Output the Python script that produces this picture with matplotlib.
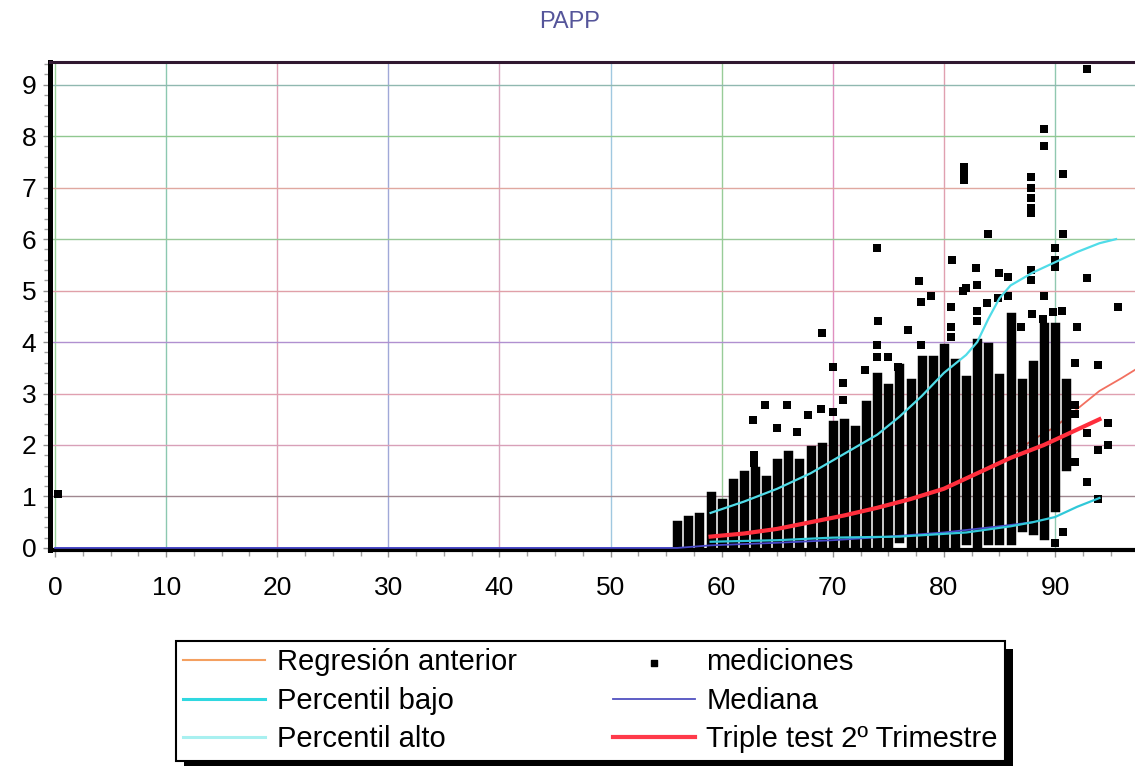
import matplotlib
matplotlib.use("Agg")
import matplotlib.pyplot as plt
from matplotlib.patches import Rectangle
from matplotlib.ticker import MultipleLocator

plt.rcParams['font.family'] = ['Liberation Sans', 'DejaVu Sans']

# weekly columns of measurements (dense runs of points): week, low end, high end
col_x = [56, 57, 58, 59, 60, 61, 62, 63, 64, 65, 66, 67, 68, 69, 70, 71, 72, 73,
         74, 75, 76, 77, 78, 79, 80, 81, 82, 83, 84, 85, 86, 87, 88, 89, 90, 91]
col_lo = [0.05, 0.05, 0.05, 0.05, 0.05, 0.05, 0.05, 0.05, 0.05, 0.05, 0.05, 0.05,
          0.05, 0.05, 0.05, 0.05, 0.05, 0.05, 0.05, 0.05, 0.2, 0.1, 0.1, 0.1,
          0.1, 0.1, 0.15, 0.0, 0.15, 0.15, 0.15, 0.4, 0.35, 0.25, 0.8, 1.6]
col_hi = [0.45, 0.54, 0.6, 1.0, 0.87, 1.26, 1.42, 1.5, 1.32, 1.65, 1.8, 1.65,
          1.9, 1.97, 2.39, 2.42, 2.29, 2.78, 3.33, 3.1, 3.5, 3.2, 3.65, 3.65,
          3.88, 3.6, 3.26, 3.98, 3.9, 3.3, 4.49, 3.2, 3.55, 4.3, 4.3, 3.2]

# isolated measurements
pt_x = [0.3, 92.9, 89.0, 89.0, 81.8, 81.8, 81.8, 90.7, 87.8, 87.8, 87.8, 87.8,
        87.8, 84.0, 90.7, 74.0, 90.0, 80.7, 90.0, 90.0, 82.9, 85.0, 85.8, 87.8,
        92.9, 77.8, 82.0, 83.0, 87.8, 81.7, 78.8, 77.9, 80.6, 83.0, 83.0, 84.9,
        89.0, 87.9, 76.8, 80.6, 80.6, 90.6, 89.8, 92.0, 95.7, 91.8, 93.9, 91.8,
        91.8, 94.8, 92.9, 94.8, 93.9, 91.8, 92.9, 93.9, 90.7, 90.0, 69.0, 74.1,
        74.0, 74.0, 75.0, 77.9, 70.0, 72.9, 75.9, 70.9, 70.9, 63.9, 65.9, 62.8,
        65.0, 66.8, 67.8, 68.9, 70.0, 62.9, 62.9, 86.9, 88.9, 85.8, 83.9]
pt_y = [1.05, 9.3, 8.14, 7.8, 7.4, 7.25, 7.15, 7.26, 7.2, 7.0, 6.8, 6.6,
        6.5, 6.1, 6.1, 5.83, 5.83, 5.6, 5.6, 5.45, 5.44, 5.34, 5.26, 5.4,
        5.24, 5.18, 5.05, 5.1, 5.2, 5.0, 4.9, 4.78, 4.68, 4.6, 4.4, 4.85,
        4.9, 4.55, 4.23, 4.3, 4.1, 4.6, 4.58, 4.3, 4.68, 3.6, 3.55, 2.78,
        2.6, 2.43, 2.23, 2.0, 1.9, 1.67, 1.28, 0.95, 0.3, 0.1, 4.17, 4.4,
        3.95, 3.7, 3.7, 3.95, 3.52, 3.45, 3.52, 3.2, 2.88, 2.78, 2.78, 2.49,
        2.33, 2.26, 2.58, 2.7, 2.64, 1.8, 1.65, 4.3, 4.45, 4.9, 4.75]

# reference curves
alto_x = [59, 62, 65, 68, 70, 72, 74, 76, 78, 80, 82, 83, 84, 85, 86, 88, 90, 92, 94, 95.5]
alto_y = [0.68, 0.9, 1.15, 1.45, 1.7, 1.95, 2.2, 2.55, 2.95, 3.4, 3.75, 4.0, 4.45,
          4.85, 5.1, 5.35, 5.55, 5.75, 5.92, 6.0]
bajo_x = [59, 65, 70, 76, 82, 86, 88, 90, 92, 94]
bajo_y = [0.12, 0.15, 0.2, 0.22, 0.3, 0.42, 0.5, 0.6, 0.8, 0.97]
med_x = [0, 56, 59, 65, 70, 75, 80, 85, 88]
med_y = [0.0, 0.0, 0.05, 0.1, 0.15, 0.22, 0.3, 0.42, 0.5]
triple_x = [59, 62, 65, 68, 71, 74, 77, 80, 83, 86, 89, 92, 94]
triple_y = [0.22, 0.28, 0.37, 0.5, 0.63, 0.78, 0.95, 1.15, 1.45, 1.75, 2.0, 2.3, 2.5]
regr_x = [86, 88, 90, 92, 94, 96, 97.5]
regr_y = [1.8, 2.1, 2.35, 2.7, 3.05, 3.3, 3.5]

# grid line colours, one per tick
vgrid = [0, 10, 20, 30, 40, 50, 60, 70, 80, 90]
vgrid_colors = ['#9ad29a', '#8cc8b0', '#e0a0b4', '#a0a8d8', '#d8a8c0',
                '#a0c8e0', '#98cc98', '#e090c0', '#e0a0b0', '#90c8b0']
hgrid = [1, 2, 3, 4, 5, 6, 7, 8, 9]
hgrid_colors = ['#a08890', '#d8a0b8', '#e0a0b0', '#b090d0', '#e0a0a8',
                '#98c898', '#e0a8a0', '#90c890', '#90b8b0']

fig = plt.figure(figsize=(11.35, 7.66), dpi=100)
ax = fig.add_axes([0.0441, 0.282, 0.9559, 0.637])

for xv, c in zip(vgrid, vgrid_colors):
    ax.axvline(xv, color=c, lw=1.0, zorder=0)
for yv, c in zip(hgrid, hgrid_colors):
    ax.axhline(yv, color=c, lw=1.0, zorder=0)

ax.plot(regr_x, regr_y, color='#f27060', lw=1.3, zorder=1)

ax.vlines(col_x, col_lo, col_hi, color='black', lw=6.8, capstyle='projecting', zorder=2)
ax.scatter(pt_x, pt_y, marker='s', s=36, color='black', lw=0, zorder=2)

ax.plot(med_x, med_y, color='#4848c8', lw=1.3, zorder=3)
ax.plot(bajo_x, bajo_y, color='#30c8d8', lw=1.6, zorder=3)
ax.plot(alto_x, alto_y, color='#50dce8', lw=1.6, zorder=3)
ax.plot(triple_x, triple_y, color='#ff2e3c', lw=3.0, zorder=4)

ax.set_xlim(-0.45, 97.2)
ax.set_ylim(-0.04, 9.44)
ax.xaxis.set_major_locator(MultipleLocator(10))
ax.xaxis.set_minor_locator(MultipleLocator(2.5))
ax.yaxis.set_major_locator(MultipleLocator(1))
ax.yaxis.set_minor_locator(MultipleLocator(0.2))
ax.tick_params(axis='both', which='major', labelsize=19, length=5, width=1,
               color='#909090')
ax.tick_params(axis='both', which='minor', length=4, width=1, color='#a0a0a0')
ax.tick_params(axis='x', which='major', pad=14)
ax.tick_params(axis='y', which='major', pad=5)

ax.spines['left'].set_linewidth(3.6)
ax.spines['bottom'].set_linewidth(3.0)
ax.spines['top'].set_linewidth(2.2)
ax.spines['top'].set_color('#301830')
ax.spines['right'].set_visible(False)

fig.text(570 / 1135, 1 - 22 / 766, 'PAPP', color='#55559a', fontsize=17,
         ha='center', va='center')

h_regr, = ax.plot([], [], color='#f4a060', lw=1.5)
h_bajo, = ax.plot([], [], color='#30d8e0', lw=2.2)
h_alto, = ax.plot([], [], color='#a8f0f0', lw=2.2)
h_med = ax.scatter([], [], marker='s', s=16, color='black')
h_mediana, = ax.plot([], [], color='#5050c0', lw=1.3)
h_triple, = ax.plot([], [], color='#ff3a4a', lw=3.0)

leg = fig.legend(
    [h_regr, h_bajo, h_alto, h_med, h_mediana, h_triple],
    ['Regresión anterior', 'Percentil bajo', 'Percentil alto',
     'mediciones', 'Mediana', 'Triple test 2º Trimestre'],
    ncols=2, loc='upper left', bbox_to_anchor=(176 / 1135, 1 - 641 / 766),
    fontsize=21, handlelength=2.8, columnspacing=3.3, labelspacing=0.36,
    borderpad=0.25, handletextpad=0.4, borderaxespad=0, fancybox=False,
    framealpha=1, edgecolor='black')
leg.get_frame().set_linewidth(1.5)

# hard black drop shadow under the legend box
fig.canvas.draw()
bb = leg.get_window_extent().transformed(fig.transFigure.inverted())
dx, dy = 8 / 1135, 8 / 766
fig.patches.append(Rectangle((bb.x0 + dx, bb.y0 - dy), bb.width, bb.height,
                             transform=fig.transFigure, facecolor='black',
                             edgecolor='none', zorder=0))

fig.savefig('out.png', dpi=100)
